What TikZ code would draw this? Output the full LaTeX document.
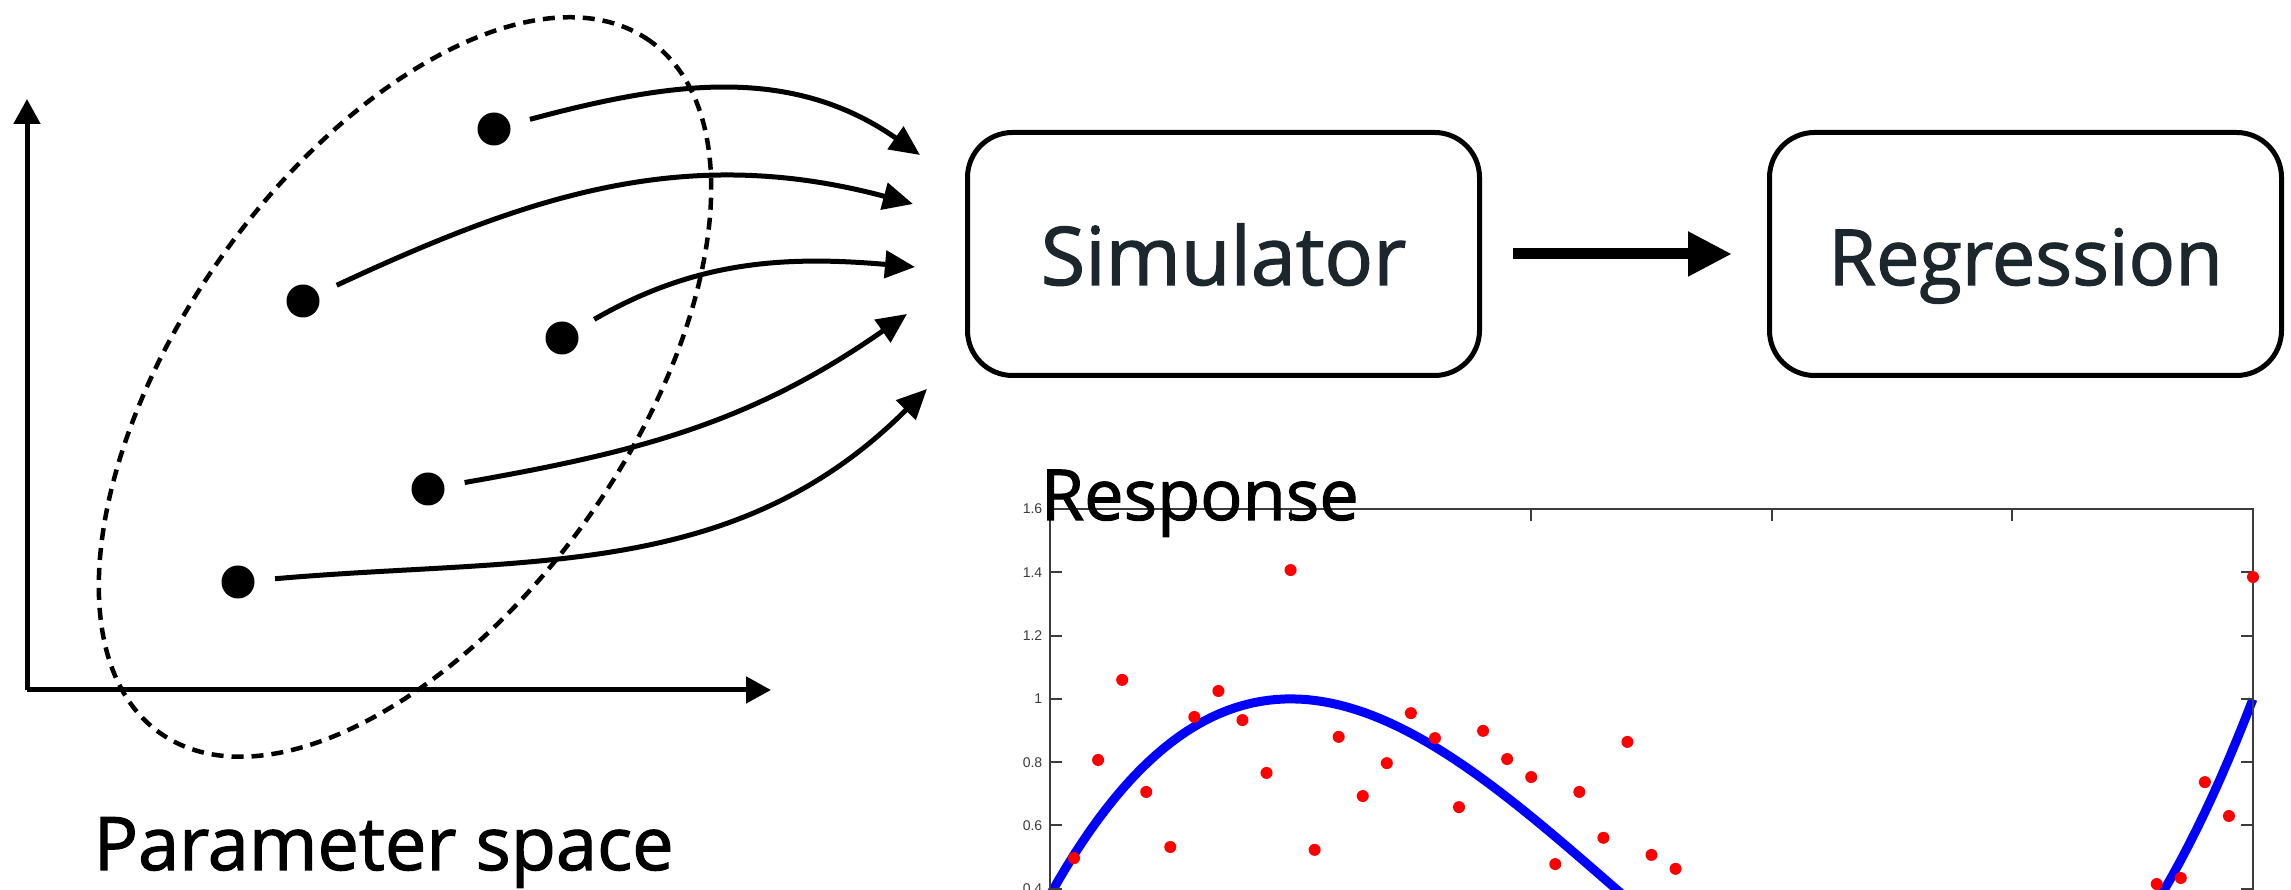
\documentclass[tikz,border=0pt]{standalone}
\usepackage{fontspec}
\setmainfont{Open Sans}
\newfontfamily\labelfont{Open Sans}[FakeBold=1.6]
\newfontfamily\tickfont{Liberation Sans}
\usetikzlibrary{arrows.meta,positioning}

\definecolor{ink}{HTML}{1C262D}
\definecolor{axisgray}{HTML}{3C3C3C}

\tikzset{
	param/.style={circle,fill=black,inner sep=0pt,minimum size=0.33cm},
	flow/.style={line width=0.05cm,-{Triangle[length=0.3cm,width=0.27cm]},shorten <=0.2cm},
	axisarrow/.style={line width=0.05cm,-{Triangle[length=0.25cm,width=0.26cm]}},
	block/.style={draw,line width=0.05cm,rounded corners=0.45cm,minimum width=5.12cm,
		minimum height=2.43cm,text height=0.76cm,text depth=0.14cm,text=ink},
	ticklbl/.style={anchor=east,inner sep=0pt,text=axisgray,font=\tickfont\fontsize{4}{5}\selectfont},
}

\begin{document}
\begin{tikzpicture}
\useasboundingbox (0,0) rectangle (22.91,8.90);
%
% parameter space
	\coordinate (origin) at (0.27,2.00);
	\coordinate (ytip) at (0.27,7.91);
	\coordinate (xtip) at (7.71,2.00);
	\draw[axisarrow] (origin) -- (ytip);
	\draw[axisarrow] (origin) -- (xtip);
	\draw[line width=0.045cm,dash pattern=on 0.12cm off 0.08cm,rotate around={54.7:(4.05,5.03)}]
		(4.05,5.03) ellipse [x radius=4.24, y radius=2.25];
%
	\node[param] (p1) at (4.94,7.61) {};
	\node[param] (p2) at (3.03,5.89) {};
	\node[param] (p3) at (5.62,5.52) {};
	\node[param] (p4) at (4.28,4.01) {};
	\node[param] (p5) at (2.38,3.08) {};
	\coordinate (t1) at (9.20,7.35);
	\coordinate (t2) at (9.13,6.86);
	\coordinate (t3) at (9.15,6.23);
	\coordinate (t4) at (9.07,5.76);
	\coordinate (t5) at (9.27,5.01);
	\draw[flow] (p1) to[out=15,in=145] (t1);
	\draw[flow] (p2) to[out=25,in=165] (t2);
	\draw[flow] (p3) to[out=30,in=175] (t3);
	\draw[flow] (p4) to[out=10,in=-145] (t4);
	\draw[flow] (p5) to[out=5,in=-135] (t5);
%
	\node[anchor=base west,inner sep=0pt,font=\labelfont\fontsize{21}{25}\selectfont] (pspace) at (0.93,0.20) {Parameter space};
%
% simulator and regression
	\node[block,font=\labelfont\fontsize{23}{27}\selectfont] (sim) at (12.235,6.36) {Simulator};
	\node[block,font=\labelfont\fontsize{22}{26}\selectfont,right=2.85cm of sim] (reg) {Regression};
	\draw[line width=0.11cm,-{Triangle[length=0.44cm,width=0.42cm]},shorten <=0.31cm,shorten >=0.35cm] (sim) -- (reg);
%
% response plot
\begin{scope}[shift={(10.50,-1.254)},x=2.406cm,y=3.165cm]
	\draw[blue,line width=0.09cm] plot[domain=0:5,samples=150] (\x,{0.38+0.124*(\x*\x*\x-7*\x*\x+11*\x)});
	\draw[axisgray,line width=0.02cm] (0,0.3) -- (0,1.6) -- (5,1.6) -- (5,0.3);
	\foreach \v [count=\i] in {0.4,0.6,0.8,1,1.2,1.4,1.6} {
		\draw[axisgray,line width=0.02cm] (0,\v) -- ++(0.12cm,0);
		\draw[axisgray,line width=0.02cm] (5,\v) -- ++(-0.12cm,0);
		\node[ticklbl] (yl\i) at ([xshift=-0.07cm]0,\v) {\v};
	}
	\foreach \u in {1,...,4}
		\draw[axisgray,line width=0.02cm] (\u,1.6) -- ++(0,-0.12cm);
	\foreach \u/\v in {0.1/0.497,0.2/0.807,0.3/1.060,0.4/0.706,0.5/0.532,0.6/0.943,0.7/1.025,
		0.8/0.933,0.9/0.766,1.0/1.407,1.1/0.523,1.2/0.880,1.3/0.693,1.4/0.797,1.5/0.955,
		1.6/0.876,1.7/0.658,1.8/0.899,1.9/0.810,2.0/0.753,2.1/0.478,2.2/0.706,2.3/0.561,
		2.4/0.864,2.5/0.507,2.6/0.463,4.6/0.415,4.7/0.434,4.8/0.737,4.9/0.630,5.0/1.385}
		\fill[red] (\u,\v) circle[radius=0.06cm];
\end{scope}
	\node[anchor=base west,inner sep=0pt,font=\labelfont\fontsize{20}{24}\selectfont] (resp) at (10.40,3.70) {Response};
\end{tikzpicture}
\end{document}
